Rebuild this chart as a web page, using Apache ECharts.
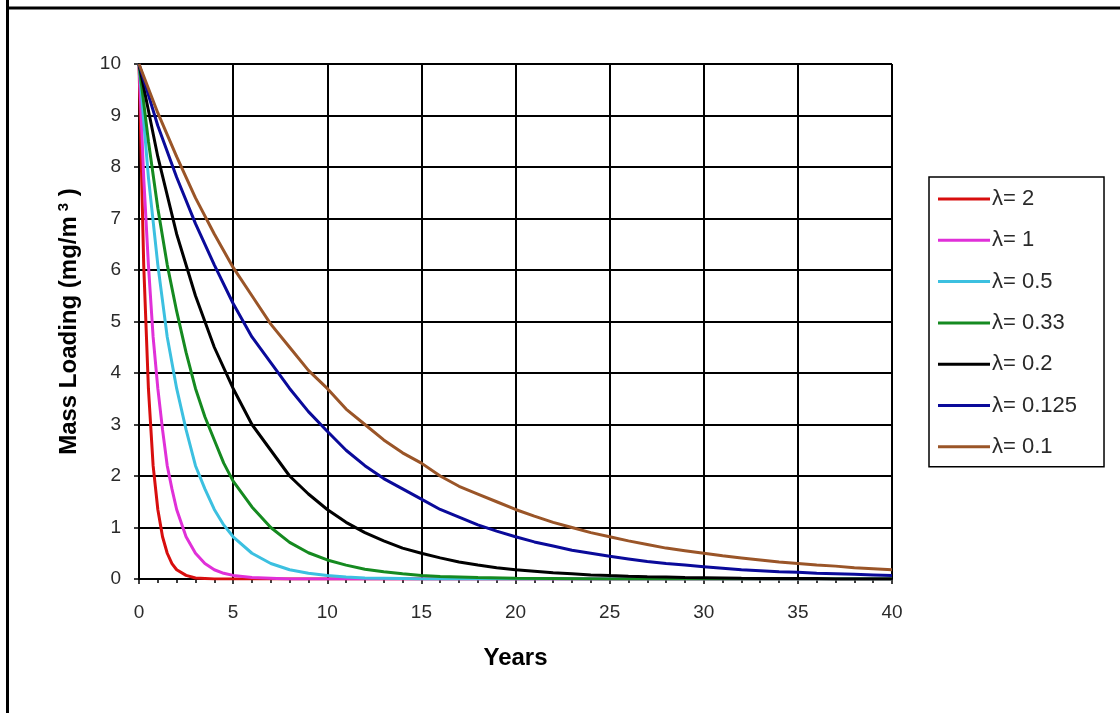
<!DOCTYPE html>
<html>
<head>
<meta charset="utf-8">
<script src="https://cdn.jsdelivr.net/npm/echarts@6.0.0/dist/echarts.min.js"></script>
<style>
html,body{margin:0;padding:0;background:#fff;}
#chart{width:1120px;height:713px;}
</style>
</head>
<body>
<div id="chart"></div>
<script>
// x positions (years) used by each group of curves
const yearsFast = [0,0.25,0.5,0.75,1,1.25,1.5,1.75,2,2.5,3,3.5,4,4.5,5,6,8,10,15,20,30,40];
const yearsMid  = [0,0.5,1,1.5,2,2.5,3,3.5,4,4.5,5,6,7,8,9,10,11,12,13,14,15,16,18,20,22,25,30,35,40];
const yearsSlow = [0,1,2,3,4,5,6,7,8,9,10,11,12,13,14,15,16,17,18,19,20,21,22,23,24,25,26,27,28,29,30,31,32,33,34,35,36,37,38,39,40];

// values (mg/m3)
const lambda2   = [10,6.1,3.7,2.2,1.35,0.82,0.5,0.3,0.18,0.07,0.02,0.01,0,0,0,0,0,0,0,0,0,0];
const lambda1   = [10,7.8,6.1,4.7,3.7,2.9,2.2,1.75,1.35,0.82,0.5,0.3,0.18,0.11,0.07,0.03,0,0,0,0,0,0];
const lambda05  = [10,7.8,6.1,4.7,3.7,2.9,2.2,1.75,1.35,1.05,0.82,0.5,0.3,0.18,0.11,0.07,0.04,0.02,0.015,0.01,0,0,0,0,0,0,0,0,0];
const lambda033 = [10,8.5,7.2,6.1,5.2,4.4,3.7,3.15,2.7,2.25,1.9,1.4,1.0,0.71,0.51,0.37,0.27,0.19,0.14,0.1,0.07,0.05,0.03,0.015,0.01,0,0,0,0];
const lambda02  = [10,8.2,6.7,5.5,4.5,3.7,3.0,2.5,2.0,1.65,1.35,1.1,0.9,0.74,0.6,0.5,0.41,0.33,0.27,0.22,0.18,0.15,0.12,0.1,0.08,0.067,0.055,0.045,0.04,0.03,0.025,0.02,0.015,0.012,0.01,0.01,0.01,0,0,0,0];
const lambda0125= [10,8.8,7.8,6.9,6.1,5.35,4.7,4.2,3.7,3.25,2.87,2.5,2.2,1.95,1.75,1.55,1.35,1.2,1.05,0.93,0.82,0.72,0.64,0.56,0.5,0.44,0.39,0.34,0.3,0.27,0.24,0.21,0.18,0.16,0.14,0.13,0.11,0.1,0.09,0.08,0.07];
const lambda01  = [10,9.05,8.2,7.4,6.7,6.05,5.5,4.95,4.5,4.05,3.7,3.3,3.0,2.7,2.45,2.25,2.0,1.8,1.65,1.5,1.35,1.22,1.1,1.0,0.9,0.82,0.74,0.67,0.6,0.55,0.5,0.45,0.41,0.37,0.33,0.3,0.27,0.25,0.22,0.2,0.18];

const seriesNames = ['λ= 2','λ= 1','λ= 0.5','λ= 0.33','λ= 0.2','λ= 0.125','λ= 0.1'];
const seriesYears = [yearsFast,yearsFast,yearsMid,yearsMid,yearsSlow,yearsSlow,yearsSlow];
const seriesValues = [lambda2,lambda1,lambda05,lambda033,lambda02,lambda0125,lambda01];
const seriesColors = ['#d80e0e','#e030d8','#3cc0e0','#158a20','#000000','#0a0a9a','#9a5528'];

const xTicks = {min:0,max:40,step:5};
const yTicks = {min:0,max:10,step:1};

const FONT = '"Liberation Sans", Arial, sans-serif';
const chart = echarts.init(document.getElementById('chart'), null, {renderer:'canvas'});

const series = seriesNames.map((n,i)=>({
  name:n, type:'line', showSymbol:false, symbol:'none', smooth:false,
  data: seriesYears[i].map((t,j)=>[t, seriesValues[i][j]]),
  lineStyle:{color:seriesColors[i], width:3},
  itemStyle:{color:seriesColors[i]},
  animation:false
}));

chart.setOption({
  backgroundColor:'#ffffff',
  animation:false,
  grid:{left:139, right:228, top:64, bottom:134},
  xAxis:{
    type:'value', min:xTicks.min, max:xTicks.max, interval:xTicks.step,
    axisLine:{show:true, lineStyle:{color:'#000', width:2}},
    axisTick:{show:true, length:5, lineStyle:{color:'#000', width:1.5}},
    minorTick:{show:true, splitNumber:5, length:4, lineStyle:{color:'#000', width:1.5}},
    splitLine:{show:true, lineStyle:{color:'#000', width:2}},
    axisLabel:{fontSize:19, color:'#2a2a2a', fontFamily:FONT, margin:24},
    name:'Years', nameLocation:'middle', nameGap:67,
    nameTextStyle:{fontSize:24, fontWeight:'bold', color:'#000', fontFamily:FONT}
  },
  yAxis:{
    type:'value', min:yTicks.min, max:yTicks.max, interval:yTicks.step,
    axisLine:{show:true, lineStyle:{color:'#000', width:2}},
    axisTick:{show:true, length:5, lineStyle:{color:'#000', width:1.5}},
    splitLine:{show:true, lineStyle:{color:'#000', width:2}},
    axisLabel:{fontSize:19, color:'#2a2a2a', fontFamily:FONT, margin:18},
    name:'{a|Mass Loading (mg/m}{s|3}{a| )}', nameLocation:'middle', nameGap:56, nameRotate:90,
    nameTextStyle:{
      rich:{
        a:{fontSize:24, fontWeight:'bold', color:'#000', fontFamily:FONT},
        s:{fontSize:15, fontWeight:'bold', color:'#000', fontFamily:FONT, verticalAlign:'top', padding:[0,0,12,5]}
      }
    }
  },
  legend:{
    show:true, orient:'vertical', left:929, top:177,
    padding:[11,27,9,9], itemWidth:52, itemHeight:3, itemGap:19.3,
    icon:'rect',
    borderColor:'#000', borderWidth:1.5, backgroundColor:'#fff',
    textStyle:{fontSize:22, color:'#2a2a2a', fontFamily:FONT, padding:[0,0,0,-3]},
    data:seriesNames
  },
  graphic:[
    {type:'line', shape:{x1:7.5,y1:0,x2:7.5,y2:713}, style:{stroke:'#000', lineWidth:3}, silent:true},
    {type:'line', shape:{x1:6,y1:8,x2:1120,y2:8}, style:{stroke:'#000', lineWidth:3}, silent:true}
  ],
  series:series
});
</script>
</body>
</html>
